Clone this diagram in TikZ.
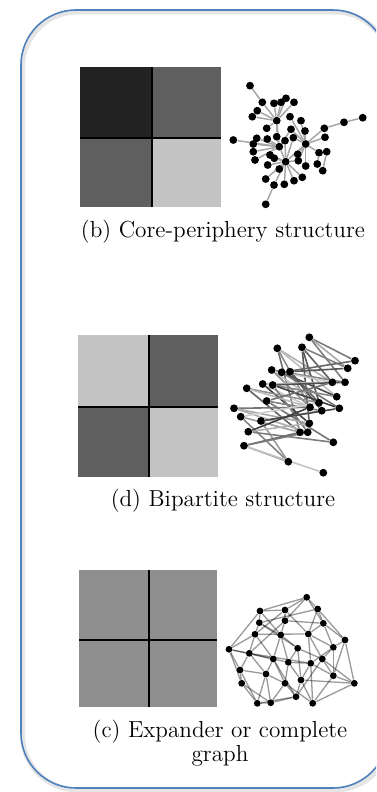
\documentclass[tikz,border=0pt]{standalone}
\usepackage{tikz}
\usetikzlibrary{positioning,backgrounds}
\definecolor{frameblue}{HTML}{4F81BD}
\definecolor{blkdark}{HTML}{222222}
\definecolor{blkmid}{HTML}{5F5F5F}
\definecolor{blklight}{HTML}{C3C3C3}
\definecolor{blkflat}{HTML}{8F8F8F}

\begin{document}
\begin{tikzpicture}[x=0.5pt, y=-0.5pt,
  font=\fontsize{11.6}{12}\selectfont,
  dot/.style={circle, fill=black, inner sep=0pt, minimum size=3.9pt},
  sdot/.style={circle, fill=black, inner sep=0pt, minimum size=3.4pt},
  cpedge/.style={draw=black!35, line width=0.75pt},
  bpedge/.style={line width=0.8pt},
  exedge/.style={draw=black, opacity=0.4, line width=0.65pt},
  divider/.style={line width=1pt},
  caption/.style={align=center, inner sep=0pt},
  ]
  \clip (0,0) rectangle (376,792);
  % frame
  \draw[black!10, line width=2.5pt, rounded corners=27.5pt] (22.5,12) rectangle (390,790);
  \draw[frameblue, line width=0.8pt, rounded corners=27.5pt] (21,10) rectangle (388,788);

  % (b) block matrix
  \fill[blkdark] (80,67) rectangle (152,138);
  \fill[blkmid] (152,67) rectangle (221,138);
  \fill[blkmid] (80,138) rectangle (152,207);
  \fill[blklight] (152,138) rectangle (221,207);
  \draw[divider] (152,67) -- (152,207) (80,138) -- (221,138);

  % (b) graph
  \foreach \n/\x/\y in {p1/250/85.7, p2/262.3/102.3, p3/274/103.3, p4/281/102.3,
      p5/286/98.3, p6/294/102.3, p7/257.3/110.7, p8/252.3/116.7, p9/276.7/120.7,
      p10/290/116.7, p11/301/120.7, p12/344/122.3, p13/362.7/117.7, p14/324.3/128.3,
      p15/266.7/128.3, p16/291/129.3, p17/305/131, p18/233.3/140, p19/256.7/138.3,
      p20/267.3/139, p21/276.7/136.7, p22/285/140.7, p23/293.3/137.7, p24/325/137.3,
      p25/253.3/144, p26/279.3/146.7, p27/305.7/144, p28/253.3/151.7, p29/270/155,
      p30/274.3/158.3, p31/297.7/154.3, p32/319/152.7, p33/326.7/151.7, p34/255/160,
      p35/267.7/165, p36/285.7/161.7, p37/298.3/160.7, p38/305.7/166, p39/317.3/164,
      p40/279.3/169, p41/322.7/170.7, p42/265.7/179, p43/274/185, p44/284.3/184.3,
      p45/294/180.7, p46/302.3/177.3, p47/265.7/204.3}
    \node[dot] (\n) at (\x,\y) {};
  \begin{scope}[on background layer]
    \foreach \u/\vs in {p9/{p2,p3,p4,p5,p6,p7,p8,p15,p21,p26},
        p26/{p18,p19,p20,p25,p28,p34,p21,p22,p16,p36},
        p36/{p22,p23,p29,p30,p35,p40,p42,p43,p44,p45,p46,p37,p27},
        p27/{p11,p14,p17,p24,p31,p32,p37,p38,p10,p16,p23},
        p1/{p2}, p12/{p13,p14}, p33/{p41}, p32/{p39}, p43/{p47}}
      \foreach \v in \vs
        \draw[cpedge] (\u) -- (\v);
  \end{scope}
  \node[caption] (capb) at (223,232) {(b) Core-periphery structure};

  % (d) block matrix
  \fill[blklight] (78,335) rectangle (149,407);
  \fill[blkmid] (149,335) rectangle (218,407);
  \fill[blkmid] (78,407) rectangle (149,477);
  \fill[blklight] (149,407) rectangle (218,477);
  \draw[divider] (149,335) -- (149,477) (78,407) -- (218,407);

  % (d) graph
  \foreach \n/\x/\y in {b1/309.3/337.3, b2/277.3/348.3, b3/302/347.3, b4/355/360.7,
      b5/347.7/368.3, b6/271.7/370, b7/281.7/372.3, b8/290/371.7, b9/332.3/382.3,
      b10/345/382.3, b11/262.7/384, b12/272.7/385, b13/246.7/388.3, b14/336.7/396.7,
      b15/266.7/401, b16/319/402.7, b17/310/407.3, b18/321.7/410.7, b19/339.3/408.3,
      b20/234/408.3, b21/240.7/416.7, b22/261/421, b23/309.3/423.3, b24/300/432.3,
      b25/307.7/432.3, b26/248.3/431.7, b27/333.3/442.3, b28/244/445.7,
      b29/288.3/461.7, b30/323.3/472.7}
    \node[dot] (\n) at (\x,\y) {};
  \begin{scope}[on background layer]
    \pgfmathsetseed{11}
    \foreach \u/\vs in {b1/{b4,b5,b10}, b2/{b9,b14,b17,b24}, b3/{b5,b9,b18,b23},
        b6/{b10,b16,b17}, b7/{b4,b9,b14,b19}, b8/{b5,b16,b18}, b11/{b9,b17,b23},
        b12/{b10,b14,b19,b25}, b13/{b16,b17,b24}, b15/{b9,b18,b27},
        b20/{b17,b23,b25}, b21/{b16,b24,b29}, b22/{b18,b19,b29},
        b26/{b23,b17,b27}, b28/{b29,b24,b25,b30}}
      \foreach \v in \vs {
        \pgfmathrandominteger{\s}{15}{75}
        \draw[bpedge, draw=black!\s] (\u) -- (\v);
      }
  \end{scope}
  \node[caption] (capd) at (223,501) {(d) Bipartite structure};

  % (c) block matrix
  \fill[blkflat] (79,570) rectangle (217,707);
  \draw[divider] (149,570) -- (149,707) (79,640) -- (217,640);

  % (c) graph
  \foreach \n/\x/\y in {e1/306.7/597.3, e2/260/611, e3/285/610, e4/317.7/609,
      e5/259.3/622.7, e6/285/620.7, e7/323.3/623.3, e8/255/634.3, e9/280.7/635,
      e10/308.3/634, e11/345/640, e12/229/649.3, e13/249.3/653.3, e14/297.7/648.3,
      e15/333.3/647.3, e16/273.3/659, e17/288.3/662.3, e18/310.7/663.3,
      e19/322.3/659, e20/240/670, e21/266/674, e22/285/683.3, e23/301/680,
      e24/333.3/675.7, e25/241.7/683.3, e26/354.3/683.3, e27/296/696.7,
      e28/257.3/703.3, e29/270.7/702.7, e30/312.7/703.3}
    \node[sdot] (\n) at (\x,\y) {};
  \begin{scope}[on background layer]
    \foreach \u/\vs in {e1/{e2,e3,e4,e7,e6}, e2/{e5,e12,e3,e9}, e3/{e6,e10,e8},
        e4/{e7,e10,e11,e5}, e5/{e8,e9,e14}, e6/{e9,e7,e13}, e7/{e11,e10,e15},
        e8/{e12,e13,e16,e10}, e9/{e14,e17,e16}, e10/{e15,e18,e19},
        e11/{e15,e26,e24}, e12/{e13,e20,e25,e17}, e13/{e20,e21,e16,e18},
        e14/{e17,e19,e23}, e15/{e19,e24,e18}, e16/{e21,e22,e27},
        e17/{e18,e22,e23}, e18/{e23,e24,e30}, e19/{e24,e26,e27},
        e20/{e25,e28,e21}, e21/{e28,e29,e22}, e22/{e27,e29,e30},
        e23/{e27,e30,e26}, e24/{e26,e30}, e25/{e28,e29}, e26/{e30},
        e27/{e29,e28}, e28/{e29}}
      \foreach \v in \vs
        \draw[exedge] (\u) -- (\v);
  \end{scope}
  \node[caption] (capc) at (220,743) {(c) Expander or complete\\graph};
\end{tikzpicture}
\end{document}
